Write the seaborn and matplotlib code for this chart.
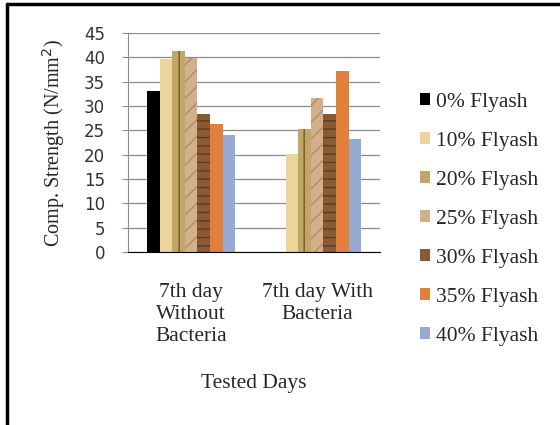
import pandas as pd
import matplotlib
matplotlib.use('Agg')
import matplotlib.pyplot as plt
import seaborn as sns
from matplotlib.lines import Line2D

# %%
days = ['7th day\nWithout\nBacteria', '7th day With\nBacteria']
mixes = ['0% Flyash', '10% Flyash', '20% Flyash', '25% Flyash',
         '30% Flyash', '35% Flyash', '40% Flyash']
without_bacteria = [33.1, 39.6, 41.3, 39.9, 28.3, 26.4, 24.0]
with_bacteria = [0.0, 20.1, 25.2, 31.7, 28.3, 37.2, 23.3]

colors = ['#000000', '#EDD49B', '#C2A667', '#D3B08A', '#8A5A35', '#E0803A', '#95A9D3']
hatch_colors = ['#000000', '#E3C687', '#6E5A2E', '#B08C68', '#5E3A1E', '#E0803A', '#95A9D3']
hatches = ['', '', '||', '//', '--', '', '']

# %%
rows = []
for mix, a, b in zip(mixes, without_bacteria, with_bacteria):
    rows.append({'day': days[0], 'mix': mix, 'strength': a})
    rows.append({'day': days[1], 'mix': mix, 'strength': b})
df = pd.DataFrame(rows)

# %%
sns.set_style('white')
plt.rcParams['font.family'] = ['Liberation Serif', 'DejaVu Serif']
plt.rcParams['hatch.linewidth'] = 1.0

fig = plt.figure(figsize=(5.6, 4.25), dpi=100)
ax = fig.add_axes([0.2286, 0.407, 0.4500, 0.5153])

sns.barplot(data=df, x='day', y='strength', hue='mix', hue_order=mixes,
            order=days, palette=colors, width=0.7, saturation=1,
            ax=ax, legend=False)

for cont, hc, h in zip(ax.containers, hatch_colors, hatches):
    for bar in cont:
        bar.set_hatch(h)
        bar.set_edgecolor(hc)
        bar.set_linewidth(0)

ax.set_ylim(0, 45)
ax.set_yticks(range(0, 46, 5))
ax.yaxis.grid(True, color='#8C8C8C', linewidth=0.9)
ax.set_axisbelow(True)
for s in ['top', 'right']:
    ax.spines[s].set_visible(False)
ax.spines['left'].set_color('#8C8C8C')
ax.spines['bottom'].set_color('#000000')
ax.tick_params(axis='y', length=4.5, color='#8C8C8C', pad=12, left=True)
ax.tick_params(axis='x', length=0, pad=22)
for lbl in ax.get_yticklabels():
    lbl.set_family(['DejaVu Sans'])
    lbl.set_color('#333333')
    lbl.set_fontsize(12)
for lbl in ax.get_xticklabels():
    lbl.set_fontsize(15.5)
    lbl.set_linespacing(1.22)

ax.set_ylabel('Comp. Strength (N/mm$^2$)', fontsize=14.5, labelpad=12)
ax.set_xlabel('Tested Days', fontsize=15.5, labelpad=20.5)

handles = [plt.Rectangle((0, 0), 1, 1, facecolor=c, edgecolor='none') for c in colors]
fig.legend(handles, mixes, loc='upper left', bbox_to_anchor=(0.75, 0.782),
           frameon=False, fontsize=15.5, handlelength=0.47, handleheight=0.47,
           handletextpad=0.25, labelspacing=0.93, borderaxespad=0, borderpad=0)

# border around chart area
fig.add_artist(Line2D([0.0125, 1.0], [0.9906, 0.9906], color='black', linewidth=2.5,
                      transform=fig.transFigure))
fig.add_artist(Line2D([0.0125, 0.0125], [0.0, 0.9906], color='black', linewidth=2.5,
                      transform=fig.transFigure))

fig.savefig('out.png', dpi=100)
